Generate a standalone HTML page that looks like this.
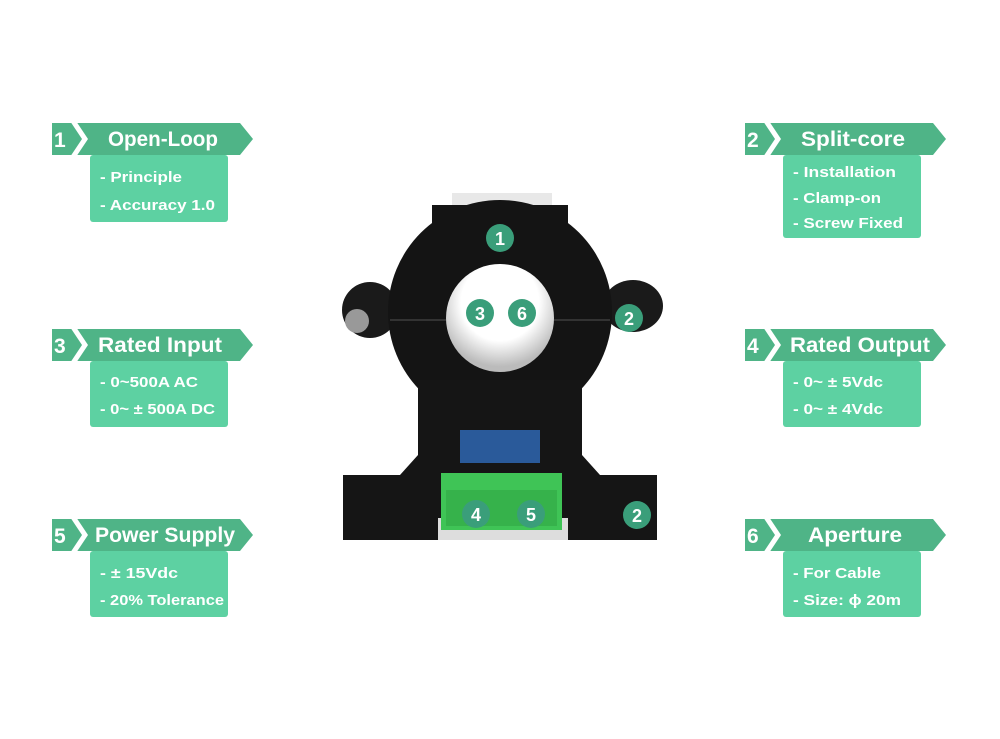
<!DOCTYPE html>
<html><head><meta charset="utf-8"><style>
html,body{margin:0;padding:0;background:#fff;width:1000px;height:739px;overflow:hidden}
svg{display:block}
.t{font-family:"Liberation Sans",sans-serif;font-weight:bold;fill:#fff}
</style></head><body>
<svg width="1000" height="739" viewBox="0 0 1000 739">
<defs>
<g id="banner">
<polygon points="0,0 188,0 201,16 188,32 0,32" fill="#4fb487"/>
<polyline points="21,-2 33,16 21,34" fill="none" stroke="#fff" stroke-width="5"/>
</g>
<radialGradient id="hole" cx="0.5" cy="0.35" r="0.6"><stop offset="0.6" stop-color="#fff"/><stop offset="1" stop-color="#bbb"/></radialGradient>
</defs>
<rect width="1000" height="739" fill="#fff"/>

<g class="t">
<use href="#banner" x="52" y="123"/>
<rect x="90" y="155" width="138" height="67" rx="3" fill="#5dd1a2"/>
<text x="54" y="147" font-size="21">1</text>
<text x="108" y="146" font-size="21" textLength="110" lengthAdjust="spacingAndGlyphs">Open-Loop</text>
<text x="100" y="182" font-size="15" textLength="82" lengthAdjust="spacingAndGlyphs">- Principle</text>
<text x="100" y="210" font-size="15" textLength="115" lengthAdjust="spacingAndGlyphs">- Accuracy 1.0</text>

<use href="#banner" x="745" y="123"/>
<rect x="783" y="155" width="138" height="83" rx="3" fill="#5dd1a2"/>
<text x="747" y="147" font-size="21">2</text>
<text x="801" y="146" font-size="21" textLength="104" lengthAdjust="spacingAndGlyphs">Split-core</text>
<text x="793" y="177" font-size="15" textLength="103" lengthAdjust="spacingAndGlyphs">- Installation</text>
<text x="793" y="203" font-size="15" textLength="88" lengthAdjust="spacingAndGlyphs">- Clamp-on</text>
<text x="793" y="228" font-size="15" textLength="110" lengthAdjust="spacingAndGlyphs">- Screw Fixed</text>

<use href="#banner" x="52" y="329"/>
<rect x="90" y="361" width="138" height="66" rx="3" fill="#5dd1a2"/>
<text x="54" y="353" font-size="21">3</text>
<text x="98" y="352" font-size="21" textLength="124" lengthAdjust="spacingAndGlyphs">Rated Input</text>
<text x="100" y="387" font-size="15" textLength="98" lengthAdjust="spacingAndGlyphs">- 0~500A AC</text>
<text x="100" y="414" font-size="15" textLength="115" lengthAdjust="spacingAndGlyphs">- 0~ ± 500A DC</text>

<use href="#banner" x="745" y="329"/>
<rect x="783" y="361" width="138" height="66" rx="3" fill="#5dd1a2"/>
<text x="747" y="353" font-size="21">4</text>
<text x="790" y="352" font-size="21" textLength="140" lengthAdjust="spacingAndGlyphs">Rated Output</text>
<text x="793" y="387" font-size="15" textLength="90" lengthAdjust="spacingAndGlyphs">- 0~ ± 5Vdc</text>
<text x="793" y="414" font-size="15" textLength="90" lengthAdjust="spacingAndGlyphs">- 0~ ± 4Vdc</text>

<use href="#banner" x="52" y="519"/>
<rect x="90" y="551" width="138" height="66" rx="3" fill="#5dd1a2"/>
<text x="54" y="543" font-size="21">5</text>
<text x="95" y="542" font-size="21" textLength="140" lengthAdjust="spacingAndGlyphs">Power Supply</text>
<text x="100" y="578" font-size="15" textLength="78" lengthAdjust="spacingAndGlyphs">-  ± 15Vdc</text>
<text x="100" y="605" font-size="15" textLength="124" lengthAdjust="spacingAndGlyphs">- 20% Tolerance</text>

<use href="#banner" x="745" y="519"/>
<rect x="783" y="551" width="138" height="66" rx="3" fill="#5dd1a2"/>
<text x="747" y="543" font-size="21">6</text>
<text x="808" y="542" font-size="21" textLength="94" lengthAdjust="spacingAndGlyphs">Aperture</text>
<text x="793" y="578" font-size="15" textLength="88" lengthAdjust="spacingAndGlyphs">- For Cable</text>
<text x="793" y="605" font-size="15" textLength="108" lengthAdjust="spacingAndGlyphs">- Size:  ϕ 20m</text>
</g>

<g>
<rect x="452" y="193" width="100" height="30" fill="#e8e8e8"/>
<ellipse cx="370" cy="310" rx="28" ry="28" fill="#1a1a1a"/>
<ellipse cx="633" cy="306" rx="30" ry="26" fill="#1a1a1a"/>
<circle cx="357" cy="321" r="12" fill="#999"/>
<circle cx="500" cy="312" r="112" fill="#141414"/>
<rect x="432" y="205" width="136" height="40" fill="#141414"/>
<polygon points="418,380 582,380 582,455 600,475 657,475 657,540 343,540 343,475 400,475 418,455" fill="#151515"/>
<line x1="390" y1="320" x2="610" y2="320" stroke="#333" stroke-width="2"/>
<circle cx="500" cy="318" r="54" fill="url(#hole)"/>
<rect x="460" y="430" width="80" height="33" fill="#2a5a9a"/>
<rect x="438" y="518" width="130" height="22" fill="#ddd"/>
<rect x="441" y="473" width="121" height="57" fill="#3fc456"/>
<rect x="446" y="490" width="111" height="36" fill="#36b24b"/>
</g>
<g class="t" font-size="18" text-anchor="middle">
<circle cx="500" cy="238" r="14" fill="#3a9e7a"/><text x="500" y="245">1</text>
<circle cx="480" cy="313" r="14" fill="#3a9e7a"/><text x="480" y="320">3</text>
<circle cx="522" cy="313" r="14" fill="#3a9e7a"/><text x="522" y="320">6</text>
<circle cx="629" cy="318" r="14" fill="#3a9e7a"/><text x="629" y="325">2</text>
<circle cx="476" cy="514" r="14" fill="#3a9e7a"/><text x="476" y="521">4</text>
<circle cx="531" cy="514" r="14" fill="#3a9e7a"/><text x="531" y="521">5</text>
<circle cx="637" cy="515" r="14" fill="#3a9e7a"/><text x="637" y="522">2</text>
</g>
</svg>
</body></html>
